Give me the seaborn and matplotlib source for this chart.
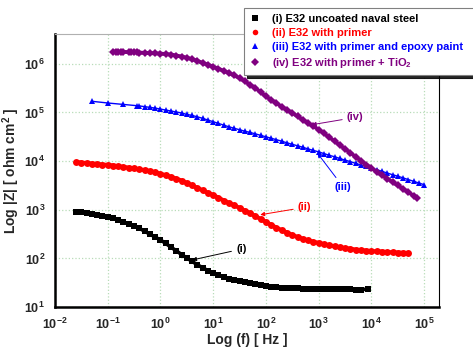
import matplotlib
matplotlib.use("Agg")
import matplotlib.pyplot as plt
from matplotlib.lines import Line2D
import numpy as np
import seaborn as sns

# Bode modulus data, log10 of frequency (Hz) and log10 of |Z| (ohm cm^2)
logf_i = [-1.6, -1.5, -1.4, -1.3, -1.2, -1.1, -1.0, -0.9, -0.8, -0.7, -0.6, -0.5,
          -0.4, -0.3, -0.2, -0.1, 0.0, 0.1, 0.2, 0.3, 0.4, 0.5, 0.6, 0.7, 0.8, 0.9,
          1.0, 1.1, 1.2, 1.3, 1.4, 1.5, 1.6, 1.7, 1.8, 1.9, 2.0, 2.1, 2.2, 2.3, 2.4,
          2.5, 2.6, 2.7, 2.8, 2.9, 3.0, 3.1, 3.2, 3.3, 3.4, 3.5, 3.6, 3.7, 3.8, 3.94]
logz_i = [2.95, 2.945, 2.935, 2.92, 2.90, 2.88, 2.86, 2.83, 2.79, 2.75, 2.71, 2.67,
          2.62, 2.56, 2.50, 2.44, 2.38, 2.31, 2.23, 2.16, 2.08, 2.01, 1.94, 1.87, 1.81,
          1.75, 1.70, 1.66, 1.62, 1.58, 1.555, 1.53, 1.51, 1.49, 1.47, 1.45, 1.43, 1.42,
          1.41, 1.40, 1.395, 1.39, 1.385, 1.38, 1.375, 1.372, 1.37, 1.368, 1.366, 1.365,
          1.364, 1.363, 1.362, 1.361, 1.36, 1.37]

logf_ii = [-1.6, -1.5, -1.4, -1.3, -1.2, -1.1, -1.0, -0.9, -0.8, -0.7, -0.6, -0.5,
           -0.4, -0.3, -0.2, -0.1, 0.0, 0.1, 0.2, 0.3, 0.4, 0.5, 0.6, 0.7, 0.8, 0.9,
           1.0, 1.1, 1.2, 1.3, 1.4, 1.5, 1.6, 1.7, 1.8, 1.9, 2.0, 2.1, 2.2, 2.3, 2.4,
           2.5, 2.6, 2.7, 2.8, 2.9, 3.0, 3.1, 3.2, 3.3, 3.4, 3.5, 3.6, 3.7, 3.8, 3.9,
           4.0, 4.1, 4.2, 4.3, 4.4, 4.5, 4.6, 4.7]
logz_ii = [3.98, 3.97, 3.96, 3.95, 3.94, 3.93, 3.92, 3.91, 3.895, 3.88, 3.865, 3.85,
           3.83, 3.815, 3.795, 3.77, 3.74, 3.71, 3.675, 3.64, 3.60, 3.55, 3.50, 3.45,
           3.40, 3.35, 3.30, 3.25, 3.19, 3.14, 3.09, 3.04, 2.98, 2.93, 2.87, 2.81, 2.75,
           2.69, 2.63, 2.58, 2.53, 2.48, 2.44, 2.40, 2.37, 2.34, 2.32, 2.29, 2.27, 2.25,
           2.23, 2.21, 2.20, 2.18, 2.17, 2.16, 2.15, 2.145, 2.14, 2.13, 2.125, 2.12,
           2.115, 2.11]

logf_iii = [-1.3, -1.0, -0.7, -0.45, -0.4, -0.3, -0.2, -0.1, 0.0, 0.1, 0.2, 0.3, 0.4,
            0.5, 0.6, 0.7, 0.8, 0.9, 1.0, 1.1, 1.2, 1.3, 1.4, 1.5, 1.6, 1.7, 1.8, 1.9,
            2.0, 2.1, 2.2, 2.3, 2.4, 2.5, 2.6, 2.7, 2.8, 2.9, 3.0, 3.1, 3.2, 3.3, 3.4,
            3.5, 3.6, 3.7, 3.8, 3.9, 4.0, 4.1, 4.2, 4.3, 4.4, 4.5, 4.6, 4.7, 4.8, 4.9, 5.0]
logz_iii = [5.23, 5.195, 5.165, 5.14, 5.135, 5.12, 5.105, 5.09, 5.07, 5.05, 5.03, 5.01,
            4.99, 4.96, 4.94, 4.91, 4.88, 4.845, 4.81, 4.775, 4.74, 4.705, 4.675, 4.645,
            4.615, 4.59, 4.56, 4.53, 4.50, 4.47, 4.44, 4.41, 4.375, 4.345, 4.315, 4.285,
            4.25, 4.22, 4.19, 4.155, 4.12, 4.09, 4.055, 4.02, 3.99, 3.955, 3.92, 3.89,
            3.86, 3.825, 3.79, 3.755, 3.72, 3.69, 3.655, 3.62, 3.585, 3.55, 3.515]

logf_iv = [-0.9, -0.85, -0.8, -0.75, -0.7, -0.6, -0.55, -0.5, -0.45, -0.4, -0.3, -0.2,
           -0.1, 0.0, 0.1, 0.2, 0.3, 0.4, 0.5, 0.6, 0.7, 0.8, 0.9, 1.0, 1.1, 1.2, 1.3,
           1.4, 1.5, 1.6, 1.7, 1.8, 1.9, 2.0, 2.1, 2.2, 2.3, 2.4, 2.5, 2.6, 2.7, 2.8,
           2.9, 3.0, 3.1, 3.2, 3.3, 3.4, 3.5, 3.6, 3.7, 3.8, 3.9, 4.0, 4.1, 4.2, 4.3,
           4.4, 4.5, 4.6, 4.7, 4.8, 4.87]
logz_iv = [6.25, 6.25, 6.25, 6.245, 6.245, 6.24, 6.24, 6.24, 6.235, 6.23, 6.225, 6.22,
           6.215, 6.21, 6.20, 6.19, 6.17, 6.15, 6.125, 6.095, 6.06, 6.02, 5.98, 5.94,
           5.90, 5.855, 5.81, 5.76, 5.71, 5.64, 5.57, 5.50, 5.42, 5.33, 5.26, 5.19, 5.12,
           5.05, 4.99, 4.92, 4.85, 4.78, 4.715, 4.65, 4.57, 4.49, 4.41, 4.33, 4.25, 4.17,
           4.09, 4.01, 3.93, 3.855, 3.78, 3.71, 3.64, 3.57, 3.50, 3.43, 3.36, 3.29, 3.24]

labels = ["(i) E32 uncoated naval steel",
          "(ii) E32 with primer",
          "(iii) E32 with primer and epoxy paint",
          "(iv) E32 with primer + TiO$_2$"]
tags = ["(i)", "(ii)", "(iii)", "(iv)"]
colors = ["#000000", "#ff0000", "#0000ff", "#800080"]
markers = ["s", "o", "^", "D"]
msizes = [4.2, 5.0, 4.6, 4.4]
lwidths = [2.6, 3.0, 1.0, 2.8]

# decade ticks on both axes
x_decades = [-2, -1, 0, 1, 2, 3, 4, 5]
y_decades = [1, 2, 3, 4, 5, 6]

# arrow annotations: (tag position, arrow tip), in Hz / ohm cm^2
tag_xy = [(34, 155), (540, 1120), (2900, 2950), (4900, 79000)]
tip_xy = [(4.0, 93), (78, 790), (950, 14500), (740, 56000)]

sns.set_style("white")
plt.rcParams["font.family"] = ["Liberation Sans", "DejaVu Sans"]
plt.rcParams["font.weight"] = "bold"
plt.rcParams["mathtext.fontset"] = "custom"
plt.rcParams["mathtext.rm"] = "Liberation Sans:bold"
plt.rcParams["mathtext.bf"] = "Liberation Sans:bold"
plt.rcParams["mathtext.it"] = "Liberation Sans:bold:italic"
plt.rcParams["mathtext.default"] = "rm"

fig = plt.figure(figsize=(4.73, 3.47), dpi=100)
ax = fig.add_axes([0.116, 0.115, 0.812, 0.787])

series = [(logf_i, logz_i), (logf_ii, logz_ii), (logf_iii, logz_iii), (logf_iv, logz_iv)]
for (lf, lz), c, m, ms, lw in zip(series, colors, markers, msizes, lwidths):
    f = 10.0 ** np.array(lf)
    z = 10.0 ** np.array(lz)
    sns.lineplot(x=f, y=z, ax=ax, color=c, linewidth=lw, marker=m,
                 markersize=ms, markeredgewidth=0, sort=False, legend=False)

ax.set_xscale("log")
ax.set_yscale("log")
ax.set_xticks(10.0 ** np.array(x_decades))
ax.set_yticks(10.0 ** np.array(y_decades))
ax.set_xlim(1e-2, 1.9e5)
ax.set_ylim(10, 4.1e6)

ax.grid(True, which="major", color="#b8dcb8", linestyle=":", linewidth=0.9)
ax.tick_params(which="major", direction="inout", length=6, width=1.3,
               labelsize=9, pad=4)
ax.tick_params(which="minor", direction="in", length=3, width=1.0)
for lbl in ax.get_xticklabels() + ax.get_yticklabels():
    lbl.set_fontweight("bold")

for side in ["left", "bottom"]:
    ax.spines[side].set_linewidth(1.8)
    ax.spines[side].set_color("black")
ax.spines["right"].set_linewidth(0.8)
ax.spines["right"].set_color("black")
ax.spines["top"].set_linewidth(0.8)
ax.spines["top"].set_color("#b0b0b0")

ax.set_xlabel("Log (f) [ Hz ]", fontsize=10, fontweight="bold", labelpad=1)
ax.set_ylabel("Log |Z| [ ohm cm$^2$ ]", fontsize=10, fontweight="bold", labelpad=2)

for tag, txy, pxy, c in zip(tags, tag_xy, tip_xy, colors):
    ax.annotate(tag, xy=pxy, xytext=txy, color=c, fontsize=8, fontweight="bold",
                ha="center", va="center",
                arrowprops=dict(arrowstyle="-|>", color=c, lw=0.7,
                                mutation_scale=6, shrinkA=1, shrinkB=0))

handles = [Line2D([], [], linestyle="none", marker=m, color=c, markersize=4,
                  markeredgewidth=0) for m, c in zip(markers, colors)]
leg = fig.legend(handles, labels, loc="upper left",
                 bbox_to_anchor=(0.516, 0.77, 0.50, 0.207), mode="expand",
                 fontsize=8, frameon=True, fancybox=False,
                 shadow={"color": "black", "alpha": 0.85},
                 handlelength=1.0, handletextpad=1.0, labelspacing=0.36,
                 borderpad=0.5, borderaxespad=0)
leg.get_frame().set_edgecolor("#808080")
leg.get_frame().set_linewidth(0.8)
for txt, c in zip(leg.get_texts(), colors):
    txt.set_color(c)
    txt.set_fontweight("bold")

fig.savefig("out.png", dpi=100, facecolor="white")
